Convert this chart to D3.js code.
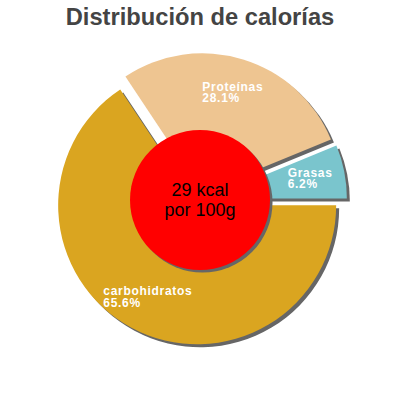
<!DOCTYPE html>
<html>
<head>
<meta charset="utf-8">
<script src="https://cdn.jsdelivr.net/npm/d3@7"></script>
<style>
  body { margin: 0; background: #fff; }
</style>
</head>
<body>
<svg id="chart"></svg>
<script>
// data
const categories = ["carbohidratos", "Proteínas", "Grasas"];
const percents = [65.6, 28.1, 6.2];
const sliceColors = ["#DAA520", "#EEC591", "#7AC5CD"];
const titleText = "Distribución de calorías";
const centerLines = ["29 kcal", "por 100g"];

class CalorieDonut {
  constructor(_config) {
    this.config = {
      parentElement: _config.parentElement,
      containerWidth: _config.containerWidth || 400,
      containerHeight: _config.containerHeight || 400,
      radius: 139,
      hole: 70,
      explode: [6, 8, 8],
      shadow: 3
    }
    this.initVis();
  }
  initVis() {
    let vis = this;
    vis.svg = d3.select(vis.config.parentElement)
      .attr('width', vis.config.containerWidth)
      .attr('height', vis.config.containerHeight);

    vis.svg.append('text')
      .attr('x', 200)
      .attr('y', 25)
      .attr('text-anchor', 'middle')
      .style('font-family', 'Liberation Sans, Arial, sans-serif')
      .style('font-weight', 'bold')
      .style('font-size', '23.7px')
      .style('fill', '#444')
      .text(titleText);

    // centre of the pie
    vis.chart = vis.svg.append('g')
      .attr('transform', 'translate(200,200)');

    vis.pie = d3.pie()
      .sort(null)
      .startAngle(Math.PI / 2)
      .endAngle(Math.PI / 2 + 2 * Math.PI)
      .value(d => d);
    vis.arcs = vis.pie(percents);

    vis.arcGenerator = d3.arc()
      .innerRadius(0)
      .outerRadius(vis.config.radius);

    // each slice pushed out along its middle angle
    const offset = (d, i) => {
      const mid = (d.startAngle + d.endAngle) / 2;
      const e = vis.config.explode[i];
      return [Math.sin(mid) * e, -Math.cos(mid) * e];
    };

    vis.arcs.forEach((d, i) => {
      const [ox, oy] = offset(d, i);
      const g = vis.chart.append('g')
        .attr('transform', `translate(${ox},${oy})`);
      g.append('path')
        .attr('d', vis.arcGenerator(d))
        .attr('transform', `translate(${vis.config.shadow},${vis.config.shadow})`)
        .attr('fill', '#666');
      g.append('path')
        .attr('d', vis.arcGenerator(d))
        .attr('fill', sliceColors[i]);
    });

    // red centre disc
    vis.chart.append('circle')
      .attr('cx', 2.5).attr('cy', 2.5)
      .attr('r', vis.config.hole)
      .attr('fill', '#666');
    vis.chart.append('circle')
      .attr('r', vis.config.hole)
      .attr('fill', '#FF0000');

    vis.chart.selectAll('.center')
      .data(centerLines)
      .join('text')
      .attr('class', 'center')
      .attr('x', 0)
      .attr('y', (d, i) => -4 + i * 19.7)
      .attr('text-anchor', 'middle')
      .style('font-family', 'Liberation Sans, Arial, sans-serif')
      .style('font-size', '18px')
      .style('fill', '#000')
      .text(d => d);

    // labels: block centred on the centroid at 0.75 R, lines left aligned
    vis.labelArc = d3.arc()
      .innerRadius(vis.config.radius * 0.75)
      .outerRadius(vis.config.radius * 0.75);

    vis.arcs.forEach((d, i) => {
      const [ox, oy] = offset(d, i);
      const mid = (d.startAngle + d.endAngle) / 2;
      const r = vis.config.radius * 0.75;
      const cx = ox + Math.sin(mid) * r;
      const cy = oy - Math.cos(mid) * r;
      const t = vis.chart.append('text')
        .style('font-family', 'Liberation Sans, Arial, sans-serif')
        .style('font-weight', 'bold')
        .style('font-size', '12px')
        .style('letter-spacing', '0.7px')
        .style('fill', '#fff');
      t.append('tspan').attr('x', 0).attr('y', 0).text(categories[i]);
      t.append('tspan').attr('x', 0).attr('y', 11.5).text(percents[i].toFixed(1) + '%');
      const bb = t.node().getBBox();
      t.attr('transform', `translate(${cx - bb.width / 2 - bb.x},${cy - bb.height / 2 - bb.y})`);
    });
  }
}

new CalorieDonut({ parentElement: '#chart' });
</script>
</body>
</html>
